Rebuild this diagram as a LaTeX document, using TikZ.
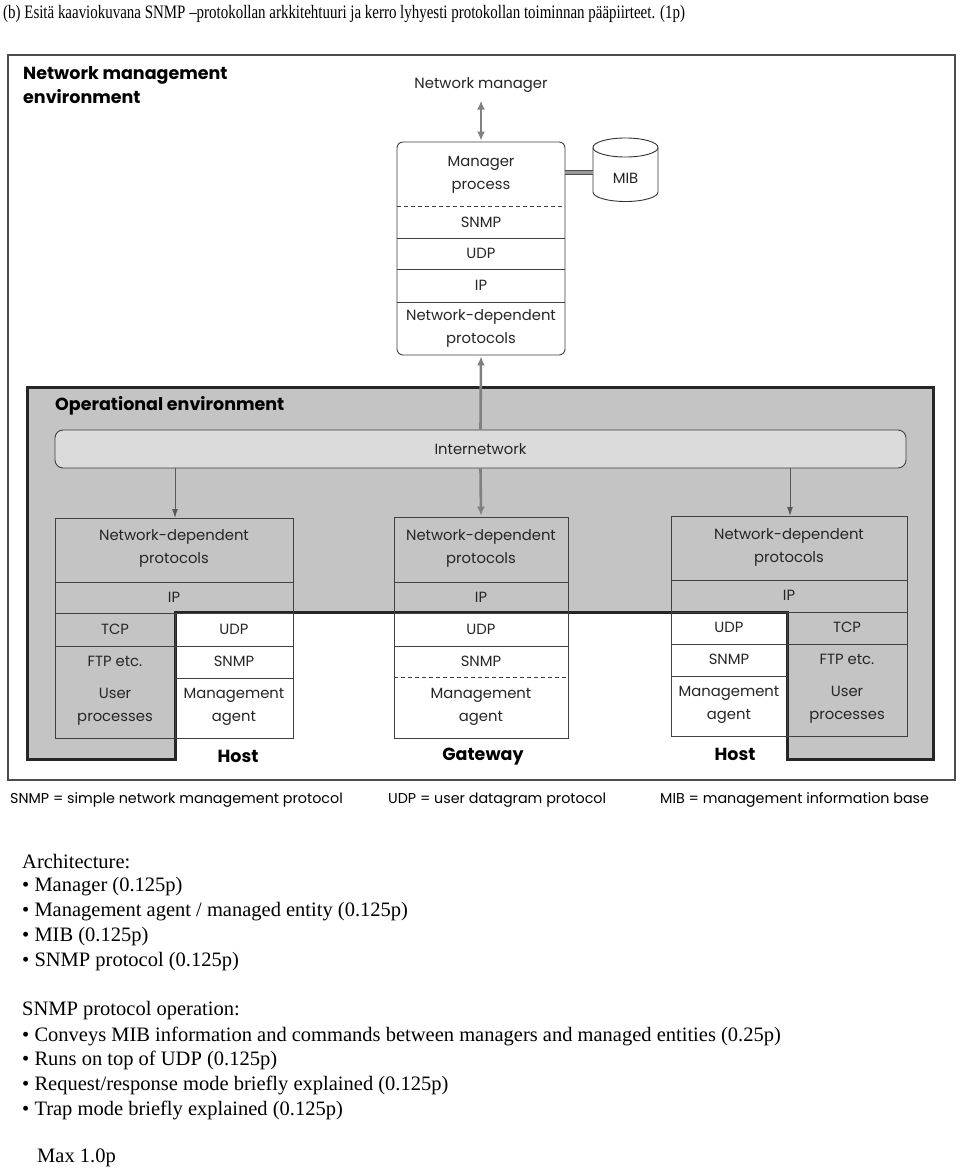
\documentclass[tikz,border=0pt]{standalone}
\usepackage{fontspec}
\setmainfont{Liberation Serif}
\newfontfamily\dgf{Poppins}
\usetikzlibrary{arrows.meta}
\begin{document}
\begin{tikzpicture}[x=1pt,y=-1pt,
  lbl/.style={font=\dgf\fontsize{14.8}{23}\selectfont, align=center, inner sep=0pt, text=black!85},
  blbl/.style={font=\dgf\bfseries\fontsize{17.5}{24}\selectfont, align=left, inner sep=0pt, anchor=west},
  hlbl/.style={font=\dgf\bfseries\fontsize{17.5}{19}\selectfont, inner sep=0pt},
  stackbox/.style={draw=black!75, line width=0.9pt, inner sep=0pt},
  sep/.style={draw=black!75, line width=0.9pt},
  dsep/.style={draw=black!75, line width=0.9pt, dash pattern=on 4pt off 3pt},
  garrow/.style={draw=black!50, line width=2.6pt},
  tarrow/.style={draw=black!65, line width=1pt, -{Latex[length=9pt,width=6pt]}},
  body/.style={font=\fontsize{20.5}{24}\selectfont, anchor=west, inner sep=0pt},
  legend/.style={font=\dgf\fontsize{14.3}{16}\selectfont, anchor=west, inner sep=0pt},
]
\useasboundingbox[fill=white] (0,0) rectangle (960,1169);

% title
\node[anchor=west, font=\fontsize{19}{22}\selectfont, inner sep=0pt] (title) at (3,14)
  {\scalebox{0.787}[1]{(b) Esitä kaaviokuvana SNMP –protokollan arkkitehtuuri ja kerro lyhyesti protokollan toiminnan pääpiirteet. (1p)}};

% outer frame
\draw[line width=1.2pt, black!70] (8,55) rectangle (955,780);
\node[blbl] (nmenv) at (23,85) {Network management\\environment};

% operational environment
\fill[black!23] (27,387) -- (933,387) -- (933,759) -- (787,759) -- (787,612) -- (175,612) -- (175,759) -- (27,759) -- cycle;
\draw[line width=3pt, black!85, line join=miter] (27,387) -- (933,387) -- (933,759) -- (787,759) -- (787,612) -- (175,612) -- (175,759) -- (27,759) -- cycle;
\node[blbl] (openv) at (55,406) {Operational environment};

% internetwork
\node[stackbox, rounded corners=8pt, fill=black!14, minimum width=851pt, minimum height=38pt, font=\dgf\fontsize{14.8}{16}\selectfont, text=black!85] (inet) at (480.5,449) {Internetwork};

% manager stack
\node[lbl] (nm) at (481,85) {Network manager};
\node[stackbox, rounded corners=6pt, fill=white, minimum width=168pt, minimum height=213pt] (mgr) at (481,248.5) {};
\node[lbl] at (481,174.5) {Manager\\process};
\draw[dsep] (397,206) -- (565,206);
\node[lbl] at (481,222) {SNMP};
\draw[sep] (397,238) -- (565,238);
\node[lbl] at (481,253.5) {UDP};
\draw[sep] (397,269) -- (565,269);
\node[lbl] at (481,285.5) {IP};
\draw[sep] (397,302) -- (565,302);
\node[lbl] at (481,328.5) {Network-dependent\\protocols};

% MIB
\coordinate (mibL) at (593,173);
\draw[line width=0.9pt, black!80, fill=white] (593,147.5) -- (593,192)
  arc[start angle=180, end angle=360, x radius=32.5pt, y radius=9.5pt] -- (658,147.5)
  arc[start angle=0, end angle=180, x radius=32.5pt, y radius=9.5pt] -- cycle;
\draw[line width=0.9pt, black!80] (593,147.5) arc[start angle=180, end angle=360, x radius=32.5pt, y radius=9.5pt];
\node[lbl] (mib) at (625.5,178) {MIB};
\draw[line width=1pt, black!70, double=black!40, double distance=3pt] (mgr.east |- mibL) -- (mibL);

% host 1
\node[stackbox, minimum width=238pt, minimum height=220pt] (h1) at (174,628) {};
\draw[sep] (55,582) -- (293,582);
\draw[sep] (55,613) -- (293,613);
\draw[sep] (175,613) -- (175,738);
\draw[sep] (55,646) -- (293,646);
\draw[sep] (175,678) -- (293,678);
\node[lbl] at (174,548.5) {Network-dependent\\protocols};
\node[lbl] at (174,597) {IP};
\node[lbl] at (115,629) {TCP};
\node[lbl] at (234,629) {UDP};
\node[lbl] at (115,661) {FTP etc.};
\node[lbl] at (234,661) {SNMP};
\node[lbl] at (115,707) {User\\processes};
\node[lbl] at (234,707) {Management\\agent};
\node[hlbl] at (238,756) {Host};

% gateway
\node[stackbox, minimum width=174pt, minimum height=221pt] (gw) at (481,627.5) {};
\draw[sep] (394,582) -- (568,582);
\draw[sep] (394,613) -- (568,613);
\draw[sep] (394,646) -- (568,646);
\draw[dsep] (394,677) -- (568,677);
\node[lbl] at (481,548.5) {Network-dependent\\protocols};
\node[lbl] at (481,597) {IP};
\node[lbl] at (481,629) {UDP};
\node[lbl] at (481,661) {SNMP};
\node[lbl] at (481,707) {Management\\agent};
\node[hlbl] at (483,757) {Gateway};

% host 2
\node[stackbox, minimum width=236pt, minimum height=220pt] (h2) at (789,626) {};
\draw[sep] (671,580) -- (907,580);
\draw[sep] (671,612) -- (907,612);
\draw[sep] (787,612) -- (787,736);
\draw[sep] (671,644) -- (907,644);
\draw[sep] (671,676) -- (787,676);
\node[lbl] at (789,547.5) {Network-dependent\\protocols};
\node[lbl] at (789,595) {IP};
\node[lbl] at (729,627) {UDP};
\node[lbl] at (847,627) {TCP};
\node[lbl] at (729,659) {SNMP};
\node[lbl] at (847,659) {FTP etc.};
\node[lbl] at (729,705) {Management\\agent};
\node[lbl] at (847,705) {User\\processes};
\node[hlbl] at (735,754) {Host};

% connectors
\draw[garrow, {Latex[length=9pt,width=8pt]}-{Latex[length=9pt,width=8pt]}, shorten <=8pt, shorten >=1pt] (nm.south) -- (mgr.north);
\draw[garrow, -{Latex[length=9pt,width=8pt]}, shorten >=1pt] (inet.north) -- (mgr.south);
\draw[garrow, -{Latex[length=9pt,width=8pt]}, shorten >=1pt] (inet.south) -- (gw.north);
\coordinate (h1top) at (175,518);
\coordinate (h2top) at (790,516);
\draw[tarrow] (inet.south -| h1top) -- (h1top);
\draw[tarrow] (inet.south -| h2top) -- (h2top);

% legend
\node[legend] (lg1) at (10,800) {SNMP = simple network management protocol};
\node[legend] (lg2) at (388,800) {UDP = user datagram protocol};
\node[legend] (lg3) at (660,800) {MIB = management information base};

% answer text
\node[body] (a0) at (22,862) {Architecture:};
\node[body] (a1) at (22,887) {\textbullet\ Manager (0.125p)};
\node[body] (a2) at (22,912) {\textbullet\ Management agent / managed entity (0.125p)};
\node[body] (a3) at (22,937) {\textbullet\ MIB (0.125p)};
\node[body] (a4) at (22,962) {\textbullet\ SNMP protocol (0.125p)};
\node[body] (b0) at (22,1011) {SNMP protocol operation:};
\node[body] (b1) at (22,1036) {\textbullet\ Conveys MIB information and commands between managers and managed entities (0.25p)};
\node[body] (b2) at (22,1060) {\textbullet\ Runs on top of UDP (0.125p)};
\node[body] (b3) at (22,1085) {\textbullet\ Request/response mode briefly explained (0.125p)};
\node[body] (b4) at (22,1110) {\textbullet\ Trap mode briefly explained (0.125p)};
\node[body] (mx) at (37,1158) {Max 1.0p};
\end{tikzpicture}
\end{document}
